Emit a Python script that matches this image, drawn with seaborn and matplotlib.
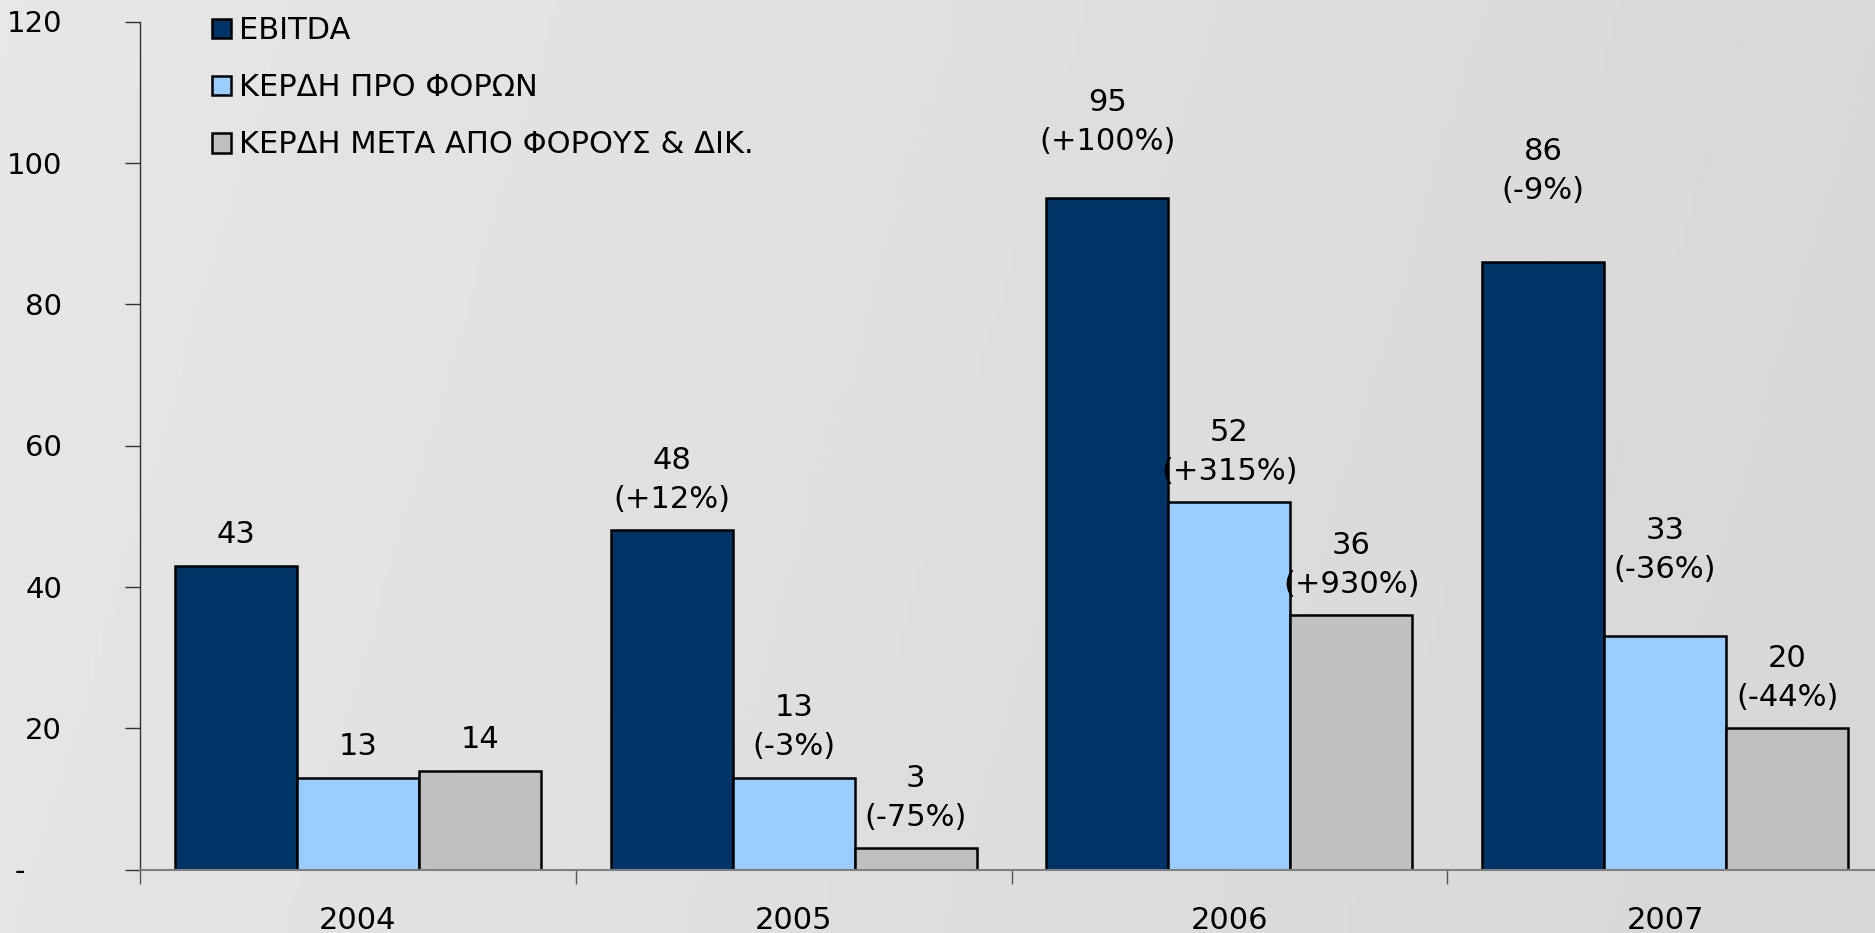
import matplotlib
matplotlib.use("Agg")
import matplotlib.pyplot as plt
import seaborn as sns
import pandas as pd
import numpy as np

# ---- data -------------------------------------------------------------
years = ["2004", "2005", "2006", "2007"]
series = ["EBITDA", "ΚΕΡΔΗ ΠΡΟ ΦΟΡΩΝ", "ΚΕΡΔΗ ΜΕΤΑ ΑΠΟ ΦΟΡΟΥΣ & ΔΙΚ."]
ebitda = [43, 48, 95, 86]
pre_tax = [13, 13, 52, 33]
after_tax = [14, 3, 36, 20]
ebitda_chg = ["", "(+12%)", "(+100%)", "(-9%)"]
pre_tax_chg = ["", "(-3%)", "(+315%)", "(-36%)"]
after_tax_chg = ["", "(-75%)", "(+930%)", "(-44%)"]
y_ticks = [0, 20, 40, 60, 80, 100, 120]
y_tick_labels = ["-\u2007\u2007", "20", "40", "60", "80", "100", "120"]

values = [ebitda, pre_tax, after_tax]
changes = [ebitda_chg, pre_tax_chg, after_tax_chg]

df = pd.DataFrame({
    "year": years * 3,
    "series": [s for s in series for _ in years],
    "value": ebitda + pre_tax + after_tax,
})

# ---- styling ----------------------------------------------------------
sns.set_theme(style="white")
plt.rcParams["font.family"] = ["DejaVu Sans"]
plt.rcParams["text.color"] = "black"
bg = "#e0e0e0"
colors = ["#003366", "#99ccff", "#c0c0c0"]

W, H, DPI = 1875, 933, 100
fig = plt.figure(figsize=(W / DPI, H / DPI), dpi=DPI, facecolor=bg)

# soft light-grey backdrop, a touch darker towards the right
bg_ax = fig.add_axes([0, 0, 1, 1], zorder=-10)
shade = np.linspace(0.895, 0.84, 256)[None, :] + np.linspace(0.0, 0.008, 64)[:, None]
bg_ax.imshow(shade, cmap="gray", vmin=0, vmax=1, aspect="auto",
             extent=[0, 1, 0, 1], origin="lower")
bg_ax.set_axis_off()

ax = fig.add_axes([140 / W, 1 - 869.5 / H, 1743 / W, 848 / H])
ax.set_facecolor("none")

sns.barplot(data=df, x="year", y="value", hue="series", order=years,
            hue_order=series, palette=colors, width=0.84, gap=0,
            edgecolor="black", linewidth=1.8, saturation=1, ax=ax,
            errorbar=None)

ax.set_xlim(-0.5, 3.5)
ax.set_ylim(0, 120)
ax.set_xlabel("")
ax.set_ylabel("")

# spines
for s in ["top", "right"]:
    ax.spines[s].set_visible(False)
ax.spines["left"].set_color("#333333")
ax.spines["left"].set_linewidth(1.0)
ax.spines["bottom"].set_color("#808080")
ax.spines["bottom"].set_linewidth(1.5)

# y axis
ax.set_yticks(y_ticks)
ax.set_yticklabels(y_tick_labels)
ax.tick_params(axis="y", direction="out", length=11, width=1.0,
               color="#333333", pad=45, labelsize=21, labelcolor="black",
               left=True)

# x axis: labels at centres, tick marks between groups
ax.set_xticks(range(len(years)))
ax.set_xticklabels(years)
ax.set_xticks([-0.5, 0.5, 1.5, 2.5], minor=True)
ax.tick_params(axis="x", which="major", length=0, pad=26, labelsize=22,
               labelcolor="black")
ax.tick_params(axis="x", which="minor", direction="out", length=10,
               width=1.0, color="#555555", bottom=True)

# value labels above bars (two lines where a change is shown)
extra_lift = {(0, 2): 26, (0, 3): 40, (1, 3): 36}
for si, cont in enumerate(ax.containers):
    for yi, bar in enumerate(cont):
        x = bar.get_x() + bar.get_width() / 2
        top = values[si][yi]
        lift = 31 + extra_lift.get((si, yi), 0)
        chg = changes[si][yi]
        lines = [str(values[si][yi])] + ([chg] if chg else [])
        for li, txt in enumerate(reversed(lines)):
            ax.annotate(txt, xy=(x, top), xytext=(0, lift + 39 * li),
                        textcoords="offset pixels", ha="center",
                        va="center", fontsize=22, color="black")

# legend
leg = ax.legend(loc="upper left", bbox_to_anchor=(200 / W, 1 - 4 / H),
                bbox_transform=fig.transFigure, frameon=False,
                fontsize=22, handlelength=0.62, handleheight=0.62,
                handletextpad=0.25, labelspacing=0.92, borderaxespad=0,
                labelcolor="black")
for h in leg.legend_handles:
    h.set_edgecolor("black")
    h.set_linewidth(1.8)

fig.savefig("out.png", dpi=DPI, facecolor=bg)
